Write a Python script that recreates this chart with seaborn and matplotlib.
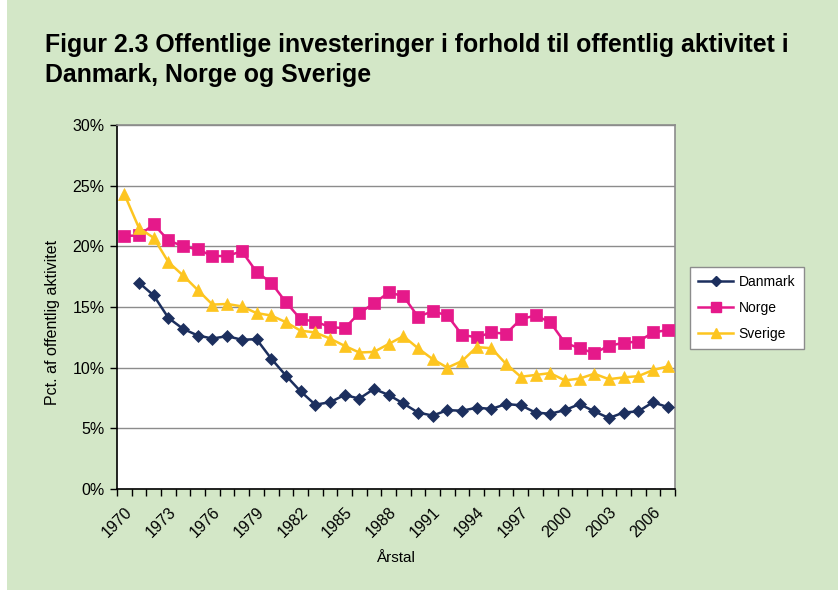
import matplotlib
matplotlib.use("Agg")
import matplotlib.pyplot as plt
import matplotlib.patches as mpatches
from matplotlib.ticker import FixedLocator, FuncFormatter
from matplotlib.lines import Line2D
import seaborn as sns
import pandas as pd
import numpy as np

years = list(range(1970, 2008))
danmark = [np.nan, 17.0, 15.95, 14.1, 13.2, 12.65, 12.4, 12.6, 12.3, 12.35,
           10.75, 9.35, 8.05, 6.95, 7.15, 7.75, 7.45, 8.25, 7.75, 7.05,
           6.3, 6.05, 6.5, 6.45, 6.7, 6.6, 7.0, 6.9, 6.3, 6.2,
           6.5, 7.0, 6.4, 5.85, 6.3, 6.4, 7.15, 6.75]
norge = [20.85, 20.9, 21.8, 20.5, 20.0, 19.75, 19.2, 19.2, 19.6, 17.9,
         17.0, 15.4, 14.0, 13.8, 13.35, 13.25, 14.5, 15.3, 16.2, 15.9,
         14.2, 14.65, 14.3, 12.7, 12.5, 12.9, 12.8, 14.0, 14.3, 13.75,
         12.05, 11.6, 11.2, 11.8, 12.05, 12.15, 12.9, 13.1]
sverige = [24.3, 21.5, 20.7, 18.7, 17.6, 16.4, 15.2, 15.25, 15.05, 14.5,
           14.3, 13.75, 13.05, 12.9, 12.4, 11.8, 11.25, 11.3, 11.95, 12.6,
           11.6, 10.7, 10.0, 10.55, 11.7, 11.6, 10.3, 9.25, 9.4, 9.55,
           8.95, 9.1, 9.5, 9.05, 9.2, 9.3, 9.8, 10.1]
countries = ["Danmark", "Norge", "Sverige"]
y_ticks = [0, 5, 10, 15, 20, 25, 30]
x_label_years = list(range(1970, 2008, 3))

df = pd.DataFrame({
    "year": years * 3,
    "value": danmark + norge + sverige,
    "country": sum([[c] * len(years) for c in countries], []),
}).dropna()

palette = {"Danmark": "#1c2f5e", "Norge": "#e5198a", "Sverige": "#fdc520"}
markers = {"Danmark": "D", "Norge": "s", "Sverige": "^"}
msize = {"Danmark": 6.5, "Norge": 8.5, "Sverige": 9}

W, H = 838, 591
fig = plt.figure(figsize=(W / 100, H / 100), dpi=100, facecolor="white")
fig.patches.append(mpatches.Rectangle((7 / W, 1 / H), 1 - 7 / W, 1 - 1 / H,
                                      transform=fig.transFigure,
                                      facecolor="#d3e7c7", edgecolor="none", zorder=-10))
ax = fig.add_axes([117 / W, 1 - 489 / H, (675 - 117) / W, (489 - 125) / H])
ax.set_facecolor("white")

sns.lineplot(data=df, x="year", y="value", hue="country", style="country",
             palette=palette, markers=markers, dashes=False, ax=ax,
             linewidth=1.8, markersize=8, markeredgewidth=0.5, legend=False)
for line, c in zip(ax.get_lines(), countries):
    line.set_markersize(msize[c])
    line.set_markeredgecolor(palette[c])
    line.set_zorder(3)

ax.set_xlim(1969.5, 2007.5)
ax.set_ylim(0, 30)
ax.yaxis.set_major_locator(FixedLocator(y_ticks))
ax.yaxis.set_major_formatter(FuncFormatter(lambda v, p: f"{int(v)}%"))
ax.grid(axis="y", color="#8c8c8c", linewidth=1.0)
ax.set_axisbelow(True)

ax.set_xticks(x_label_years)
ax.set_xticklabels([str(y) for y in x_label_years], rotation=45,
                   ha="right", va="top", rotation_mode="anchor", fontsize=11.5,
                   family="Liberation Sans")
ax.tick_params(axis="x", which="major", length=0, pad=11)
ax.set_xticks(np.arange(1969.5, 2008.0, 1.0), minor=True)
ax.tick_params(axis="x", which="minor", length=5, width=1, color="black", direction="out")
ax.tick_params(axis="y", length=5, width=1, color="black", labelsize=11.5, pad=4)
for lab in ax.get_yticklabels():
    lab.set_family("Liberation Sans")

for s in ["left", "bottom"]:
    ax.spines[s].set_color("black")
    ax.spines[s].set_linewidth(1.2)
for s in ["top", "right"]:
    ax.spines[s].set_color("#8c8c8c")
    ax.spines[s].set_linewidth(1.2)

ax.set_xlabel("Årstal", fontsize=11, family="Liberation Sans")
ax.xaxis.set_label_coords((395 - 117) / 558, -(551 - 489) / 364)
ax.set_ylabel("Pct. af offentlig aktivitet", fontsize=11.5, family="Liberation Sans")
ax.yaxis.set_label_coords((60 - 117) / 558, (489 - 322) / 364)

fig.text(45 / W, 1 - 60 / H,
         "Figur 2.3 Offentlige investeringer i forhold til offentlig aktivitet i\nDanmark, Norge og Sverige",
         fontsize=17.9, fontweight="bold", family="Liberation Sans",
         ha="left", va="center", linespacing=1.28)

handles = [Line2D([0], [0], color=palette[c], marker=markers[c], linewidth=1.8,
                  markersize=msize[c] * 0.85, markeredgecolor=palette[c]) for c in countries]
leg = fig.legend(handles, countries, loc="upper left",
                 bbox_to_anchor=(690 / W, 1 - 267 / H), frameon=True, fancybox=False,
                 edgecolor="#8c8c8c", facecolor="white", framealpha=1,
                 prop={"family": "Liberation Sans", "size": 10},
                 handlelength=2.5, handletextpad=0.4, labelspacing=0.85,
                 borderpad=0.6, borderaxespad=0)
leg.get_frame().set_linewidth(1.0)

fig.savefig("out.png", dpi=100, facecolor="white")
